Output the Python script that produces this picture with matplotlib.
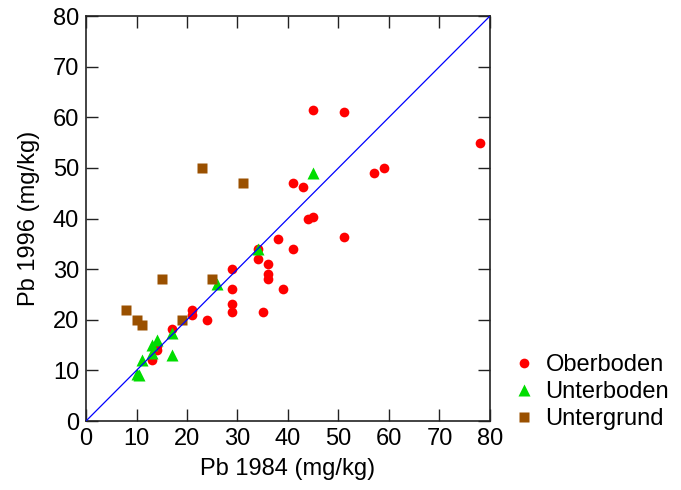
import matplotlib
matplotlib.use("Agg")
import matplotlib.pyplot as plt
from matplotlib.lines import Line2D

plt.rcParams['font.family'] = ['Liberation Sans', 'DejaVu Sans']

# Pb contents (mg/kg), 1984 vs 1996, by soil layer
ober_x = [13, 14, 14, 17, 21, 21, 24, 29, 29, 29, 29, 34, 34, 35, 36, 36, 36,
          38, 39, 41, 41, 43, 44, 45, 45, 51, 51, 57, 59, 78]
ober_y = [12, 14, 14.8, 18.2, 22, 21, 20, 30, 26, 23.2, 21.5, 34, 32, 21.6, 31, 29, 28,
          36, 26, 47, 34, 46.3, 40, 40.3, 61.5, 61, 36.3, 49, 50, 55]

unter_x = [10, 10.5, 11, 13, 13, 14, 17, 17, 26, 34, 45]
unter_y = [9.3, 9, 12, 15, 13.4, 16, 13, 17.3, 27, 34, 49]

grund_x = [8, 10, 11, 15, 19, 23, 25, 31]
grund_y = [22, 20, 19, 28, 20, 50, 28, 47]

red = '#ff0000'
green = '#00dd00'
brown = '#9a5000'

fig = plt.figure(figsize=(6.81, 4.90), dpi=100)
ax = fig.add_axes([0.1263, 0.1408, 0.5932, 0.8265])

ax.plot(ober_x, ober_y, 'o', color=red, ms=7, mec='none', zorder=2)
ax.plot(unter_x, unter_y, '^', color=green, ms=8, mec='none', zorder=3)
ax.plot(grund_x, grund_y, 's', color=brown, ms=6.5, mec='none', zorder=4)
ax.plot([0, 80], [0, 80], color='blue', lw=0.9, zorder=5)

ax.set_xlim(0, 80)
ax.set_ylim(0, 80)
ax.set_xticks(range(0, 81, 10))
ax.set_yticks(range(0, 81, 10))
ax.tick_params(direction='in', length=8.5, width=1, labelsize=17, pad=5,
               top=True, right=True, color='#222222')
for s in ax.spines.values():
    s.set_linewidth(1.2)
    s.set_color('#222222')

ax.set_xlabel('Pb 1984 (mg/kg)', fontsize=17, labelpad=6)
ax.set_ylabel('Pb 1996 (mg/kg)', fontsize=17, labelpad=9)

handles = [
    Line2D([], [], ls='none', marker='o', color=red, ms=7, mec='none', label='Oberboden'),
    Line2D([], [], ls='none', marker='^', color=green, ms=8, mec='none', label='Unterboden'),
    Line2D([], [], ls='none', marker='s', color=brown, ms=6.5, mec='none', label='Untergrund'),
]
fig.legend(handles=handles, loc='upper left', bbox_to_anchor=(0.742, 0.296),
           frameon=False, fontsize=17, handlelength=0.8, handletextpad=0.5,
           labelspacing=0.2, borderaxespad=0)

fig.savefig('out.png', dpi=100)
